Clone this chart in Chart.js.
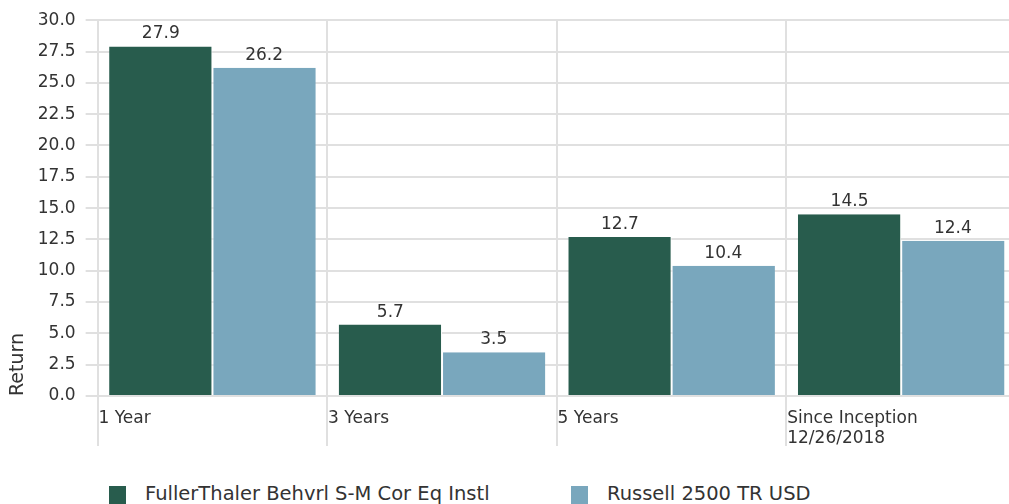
<!DOCTYPE html>
<html>
<head>
<meta charset="utf-8">
<script src="https://cdn.jsdelivr.net/npm/chart.js@4/dist/chart.umd.min.js"></script>
<style>
  html, body { margin: 0; padding: 0; background: #fff; overflow: hidden; }
  #wrap { position: relative; width: 1009px; height: 504px; overflow: hidden; }
  #chart-box { position: absolute; left: 0; top: 0; width: 1020px; height: 460px; }
  .legend { position: absolute; top: 482px; font-family: "DejaVu Sans", sans-serif; font-size: 19.5px; color: #333; white-space: nowrap; line-height: 24px; }
  .legend .sw { position: absolute; left: 0; top: 4px; width: 17px; height: 18px; }
  .legend .tx { position: absolute; left: 36px; top: 0; }
</style>
</head>
<body>
<div id="wrap">
  <div id="chart-box"><canvas id="returns-chart"></canvas></div>
  <div class="legend" id="leg-0" style="left:109px"><span class="sw"></span><span class="tx"></span></div>
  <div class="legend" id="leg-1" style="left:571px"><span class="sw"></span><span class="tx"></span></div>
</div>
<script>
// Data
const periods = ["1 Year", "3 Years", "5 Years", ["Since Inception", "12/26/2018"]];
const fundName = "FullerThaler Behvrl S-M Cor Eq Instl";
const benchName = "Russell 2500 TR USD";
const fundReturns = [27.9, 5.7, 12.7, 14.5];
const benchReturns = [26.2, 3.5, 10.4, 12.4];

const fundColor = "#285c4d";
const benchColor = "#79a7bd";
const textColor = "#333333";
const gridColor = "#e0e0e0";
const fontFamily = "'DejaVu Sans', sans-serif";

// Value labels above each bar
const valueLabels = {
  id: "valueLabels",
  afterDatasetsDraw(chart) {
    const ctx = chart.ctx;
    ctx.save();
    ctx.font = "17px " + fontFamily;
    ctx.fillStyle = textColor;
    ctx.textAlign = "center";
    ctx.textBaseline = "bottom";
    chart.data.datasets.forEach((ds, i) => {
      const meta = chart.getDatasetMeta(i);
      meta.data.forEach((bar, j) => {
        ctx.fillText(ds.data[j].toFixed(1), bar.x, bar.y - 4);
      });
    });
    ctx.restore();
  },
};

const ctx = document.getElementById("returns-chart").getContext("2d");
const chart = new Chart(ctx, {
  type: "bar",
  data: {
    labels: periods,
    datasets: [
      {
        label: fundName,
        data: fundReturns,
        backgroundColor: fundColor,
        borderColor: "#ffffff",
        borderWidth: { right: 1 },
        categoryPercentage: 0.9,
        barPercentage: 1.0,
      },
      {
        label: benchName,
        data: benchReturns,
        backgroundColor: benchColor,
        borderColor: "#ffffff",
        borderWidth: { left: 1 },
        categoryPercentage: 0.9,
        barPercentage: 1.0,
      },
    ],
  },
  options: {
    responsive: true,
    maintainAspectRatio: false,
    animation: false,
    layout: { padding: { left: 1, right: 4, top: 10, bottom: 12 } },
    plugins: {
      legend: { display: false },
      tooltip: { enabled: false },
    },
    scales: {
      x: {
        // keep the axis box tall enough for the two-line label
        afterFit: (scale) => { scale.height = 52; },
        grid: {
          offset: true,
          color: gridColor,
          lineWidth: 2,
          tickLength: 50,
        },
        border: { color: gridColor, width: 2 },
        ticks: {
          align: "start",
          padding: -38,
          labelOffset: -114,
          autoSkip: false,
          color: textColor,
          font: { family: fontFamily, size: 17 },
          maxRotation: 0,
        },
      },
      y: {
        min: 0,
        max: 30,
        grid: {
          color: gridColor,
          lineWidth: 2,
          tickLength: 12,
        },
        border: { color: gridColor, width: 2 },
        ticks: {
          stepSize: 2.5,
          padding: 10,
          color: textColor,
          font: { family: fontFamily, size: 17 },
          callback: (v) => Number(v).toFixed(1),
        },
        title: {
          display: true,
          text: "Return",
          align: "start",
          color: textColor,
          font: { family: fontFamily, size: 19 },
          padding: { top: 6, bottom: -2 },
        },
      },
    },
  },
  plugins: [valueLabels],
});

// HTML legend
[fundColor, benchColor].forEach((col, i) => {
  const item = document.getElementById("leg-" + i);
  item.querySelector(".sw").style.background = col;
  item.querySelector(".tx").textContent = chart.data.datasets[i].label;
});
</script>
</body>
</html>
